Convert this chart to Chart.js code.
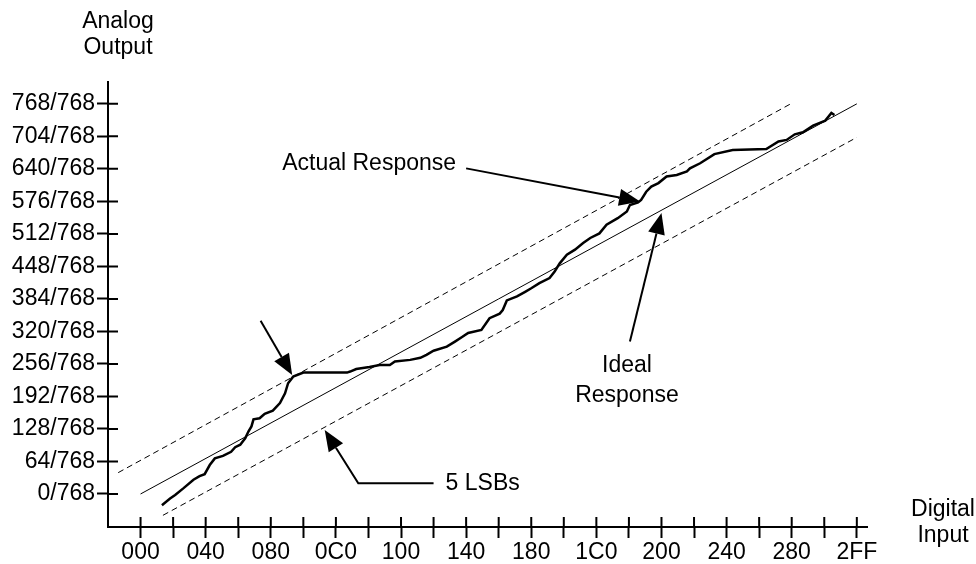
<!DOCTYPE html>
<html>
<head>
  <title>DAC Transfer Function</title>
  <script src="https://cdn.jsdelivr.net/npm/chart.js"></script>
  <style>
    body { margin: 0; background: white; }
    .chart-container { position: relative; width: 976px; height: 564px; }
  </style>
</head>
<body>
  <div class="chart-container">
    <canvas id="dacChart"></canvas>
  </div>
  <script>
    // Tick labels
    const xTickLabels = ['000', '040', '080', '0C0', '100', '140', '180', '1C0', '200', '240', '280', '2FF'];
    const yTickLabels = ['0/768', '64/768', '128/768', '192/768', '256/768', '320/768', '384/768',
      '448/768', '512/768', '576/768', '640/768', '704/768', '768/768'];

    // Ideal response and +/- band
    const idealInput = [0, 704];
    const idealOutput = [0, 768];
    const upperInput = [-22, 639];
    const upperOutput = [42, 768];
    const lowerInput = [22, 704];
    const lowerOutput = [-42, 702];

    // Actual response
    const actualInput = [21, 29, 34, 42, 52, 58, 63, 68, 73, 81, 89, 93, 98, 103, 106, 109, 111, 117, 122, 130,
      137, 142, 145, 150, 160, 203, 206, 212, 225, 235, 245, 250, 265, 275, 281, 288, 301, 309, 316, 322,
      335, 343, 353, 356, 360, 370, 378, 384, 392, 402, 407, 412, 419, 427, 435, 442, 451, 458, 469, 478,
      481, 489, 492, 497, 502, 509, 517, 527, 537, 540, 550, 564, 582, 615, 627, 635, 643, 651, 661, 673,
      679, 682];
    const actualOutput = [-22, -9, -2, 11, 28, 35, 39, 57, 70, 75, 83, 92, 97, 110, 123, 133, 147, 149, 158, 164,
      179, 198, 218, 231, 239, 239, 241, 246, 250, 254, 254, 261, 264, 268, 274, 282, 290, 300, 309, 317,
      323, 346, 355, 362, 381, 389, 398, 405, 415, 425, 438, 454, 471, 481, 494, 504, 513, 530, 543, 556,
      569, 574, 579, 595, 605, 612, 625, 628, 635, 641, 651, 669, 677, 679, 694, 697, 708, 712, 725, 735,
      750, 746];

    // Annotation anchors in data units: [input, output]
    const actualArrow = [[320, 641], [491, 576]];
    const idealArrow = [[481, 300], [512, 553]];
    const kinkArrow = [[118, 341], [149, 234]];
    const lsbArrow = [[288, 21], [214, 21], [181, 126]];

    const FONT = "'Liberation Sans', Arial, Helvetica, sans-serif";
    const toXY = (xs, ys) => xs.map((x, i) => ({ x: x, y: ys[i] }));

    const xTickValues = [];
    for (let v = 0; v <= 704; v += 32) xTickValues.push(v);
    const yTickValues = yTickLabels.map((_, i) => i * 64);

    const annotations = {
      id: 'annotations',
      afterDraw(chart) {
        const ctx = chart.ctx;
        const xs = chart.scales.x, ys = chart.scales.y;
        const px = p => [xs.getPixelForValue(p[0]), ys.getPixelForValue(p[1])];
        const area = chart.chartArea;

        ctx.save();
        ctx.strokeStyle = '#000';
        ctx.fillStyle = '#000';

        // inner half of the axis ticks
        ctx.lineWidth = 2;
        ctx.beginPath();
        xTickValues.forEach(v => {
          const x = xs.getPixelForValue(v);
          ctx.moveTo(x, area.bottom);
          ctx.lineTo(x, area.bottom - 10);
        });
        yTickValues.forEach(v => {
          const y = ys.getPixelForValue(v);
          ctx.moveTo(area.left, y);
          ctx.lineTo(area.left + 10, y);
        });
        ctx.stroke();

        // arrows
        const arrow = (pts) => {
          const p = pts.map(px);
          const tip = p[p.length - 1], prev = p[p.length - 2];
          const ang = Math.atan2(tip[1] - prev[1], tip[0] - prev[0]);
          const len = 21, hw = 8.5;
          const bx = tip[0] - len * Math.cos(ang), by = tip[1] - len * Math.sin(ang);
          ctx.lineWidth = 2;
          ctx.beginPath();
          ctx.moveTo(p[0][0], p[0][1]);
          for (let i = 1; i < p.length - 1; i++) ctx.lineTo(p[i][0], p[i][1]);
          ctx.lineTo(bx, by);
          ctx.stroke();
          ctx.beginPath();
          ctx.moveTo(tip[0], tip[1]);
          ctx.lineTo(bx + hw * Math.sin(ang), by - hw * Math.cos(ang));
          ctx.lineTo(bx - hw * Math.sin(ang), by + hw * Math.cos(ang));
          ctx.closePath();
          ctx.fill();
        };
        arrow(actualArrow);
        arrow(idealArrow);
        arrow(kinkArrow);
        arrow(lsbArrow);

        // texts
        ctx.font = '23px ' + FONT;
        ctx.textBaseline = 'middle';
        ctx.textAlign = 'center';
        ctx.fillText('Analog', 118, 22);
        ctx.fillText('Output', 118, 48);
        ctx.fillText('Digital', 943, 510);
        ctx.fillText('Input', 943, 536);
        const a = px(actualArrow[0]);
        ctx.fillText('Actual Response', a[0] - 97, a[1] - 5);
        const b = px(idealArrow[0]);
        ctx.fillText('Ideal', b[0] - 3, b[1] + 24);
        ctx.fillText('Response', b[0] - 3, b[1] + 54);
        const c = px(lsbArrow[0]);
        ctx.textAlign = 'left';
        ctx.fillText('5 LSBs', c[0] + 12, c[1]);
        ctx.restore();
      }
    };

    const lineSet = (data, width, dash) => ({
      data: data,
      borderColor: '#000',
      borderWidth: width,
      borderDash: dash,
      pointRadius: 0,
      fill: false,
      tension: 0
    });

    new Chart(document.getElementById('dacChart').getContext('2d'), {
      type: 'line',
      data: {
        datasets: [
          lineSet(toXY(idealInput, idealOutput), 1, []),
          lineSet(toXY(upperInput, upperOutput), 1, [6, 4]),
          lineSet(toXY(lowerInput, lowerOutput), 1, [6, 4]),
          lineSet(toXY(actualInput, actualOutput), 2.5, [])
        ]
      },
      options: {
        responsive: true,
        maintainAspectRatio: false,
        animation: false,
        layout: { padding: { top: 82, right: 109, left: 0, bottom: 0 } },
        plugins: { legend: { display: false }, tooltip: { enabled: false } },
        scales: {
          x: {
            type: 'linear',
            min: -32,
            max: 714,
            border: { color: '#000', width: 2 },
            grid: { drawOnChartArea: false, drawTicks: true, tickLength: 11, tickWidth: 2, tickColor: '#000' },
            afterBuildTicks: s => { s.ticks = xTickValues.map(v => ({ value: v })); },
            afterFit: s => { s.height = 37; },
            ticks: {
              autoSkip: false,
              maxRotation: 0,
              padding: 1,
              color: '#000',
              font: { size: 23, family: FONT },
              callback: v => (v % 64 === 0 ? xTickLabels[v / 64] : '')
            }
          },
          y: {
            type: 'linear',
            min: -65,
            max: 811,
            border: { color: '#000', width: 2 },
            grid: { drawOnChartArea: false, drawTicks: true, tickLength: 11, tickWidth: 2, tickColor: '#000' },
            afterBuildTicks: s => { s.ticks = yTickValues.map(v => ({ value: v })); },
            afterFit: s => { s.width = 108; },
            ticks: {
              autoSkip: false,
              padding: 2,
              color: '#000',
              font: { size: 23, family: FONT },
              callback: v => yTickLabels[v / 64]
            }
          }
        }
      },
      plugins: [annotations]
    });
  </script>
</body>
</html>
